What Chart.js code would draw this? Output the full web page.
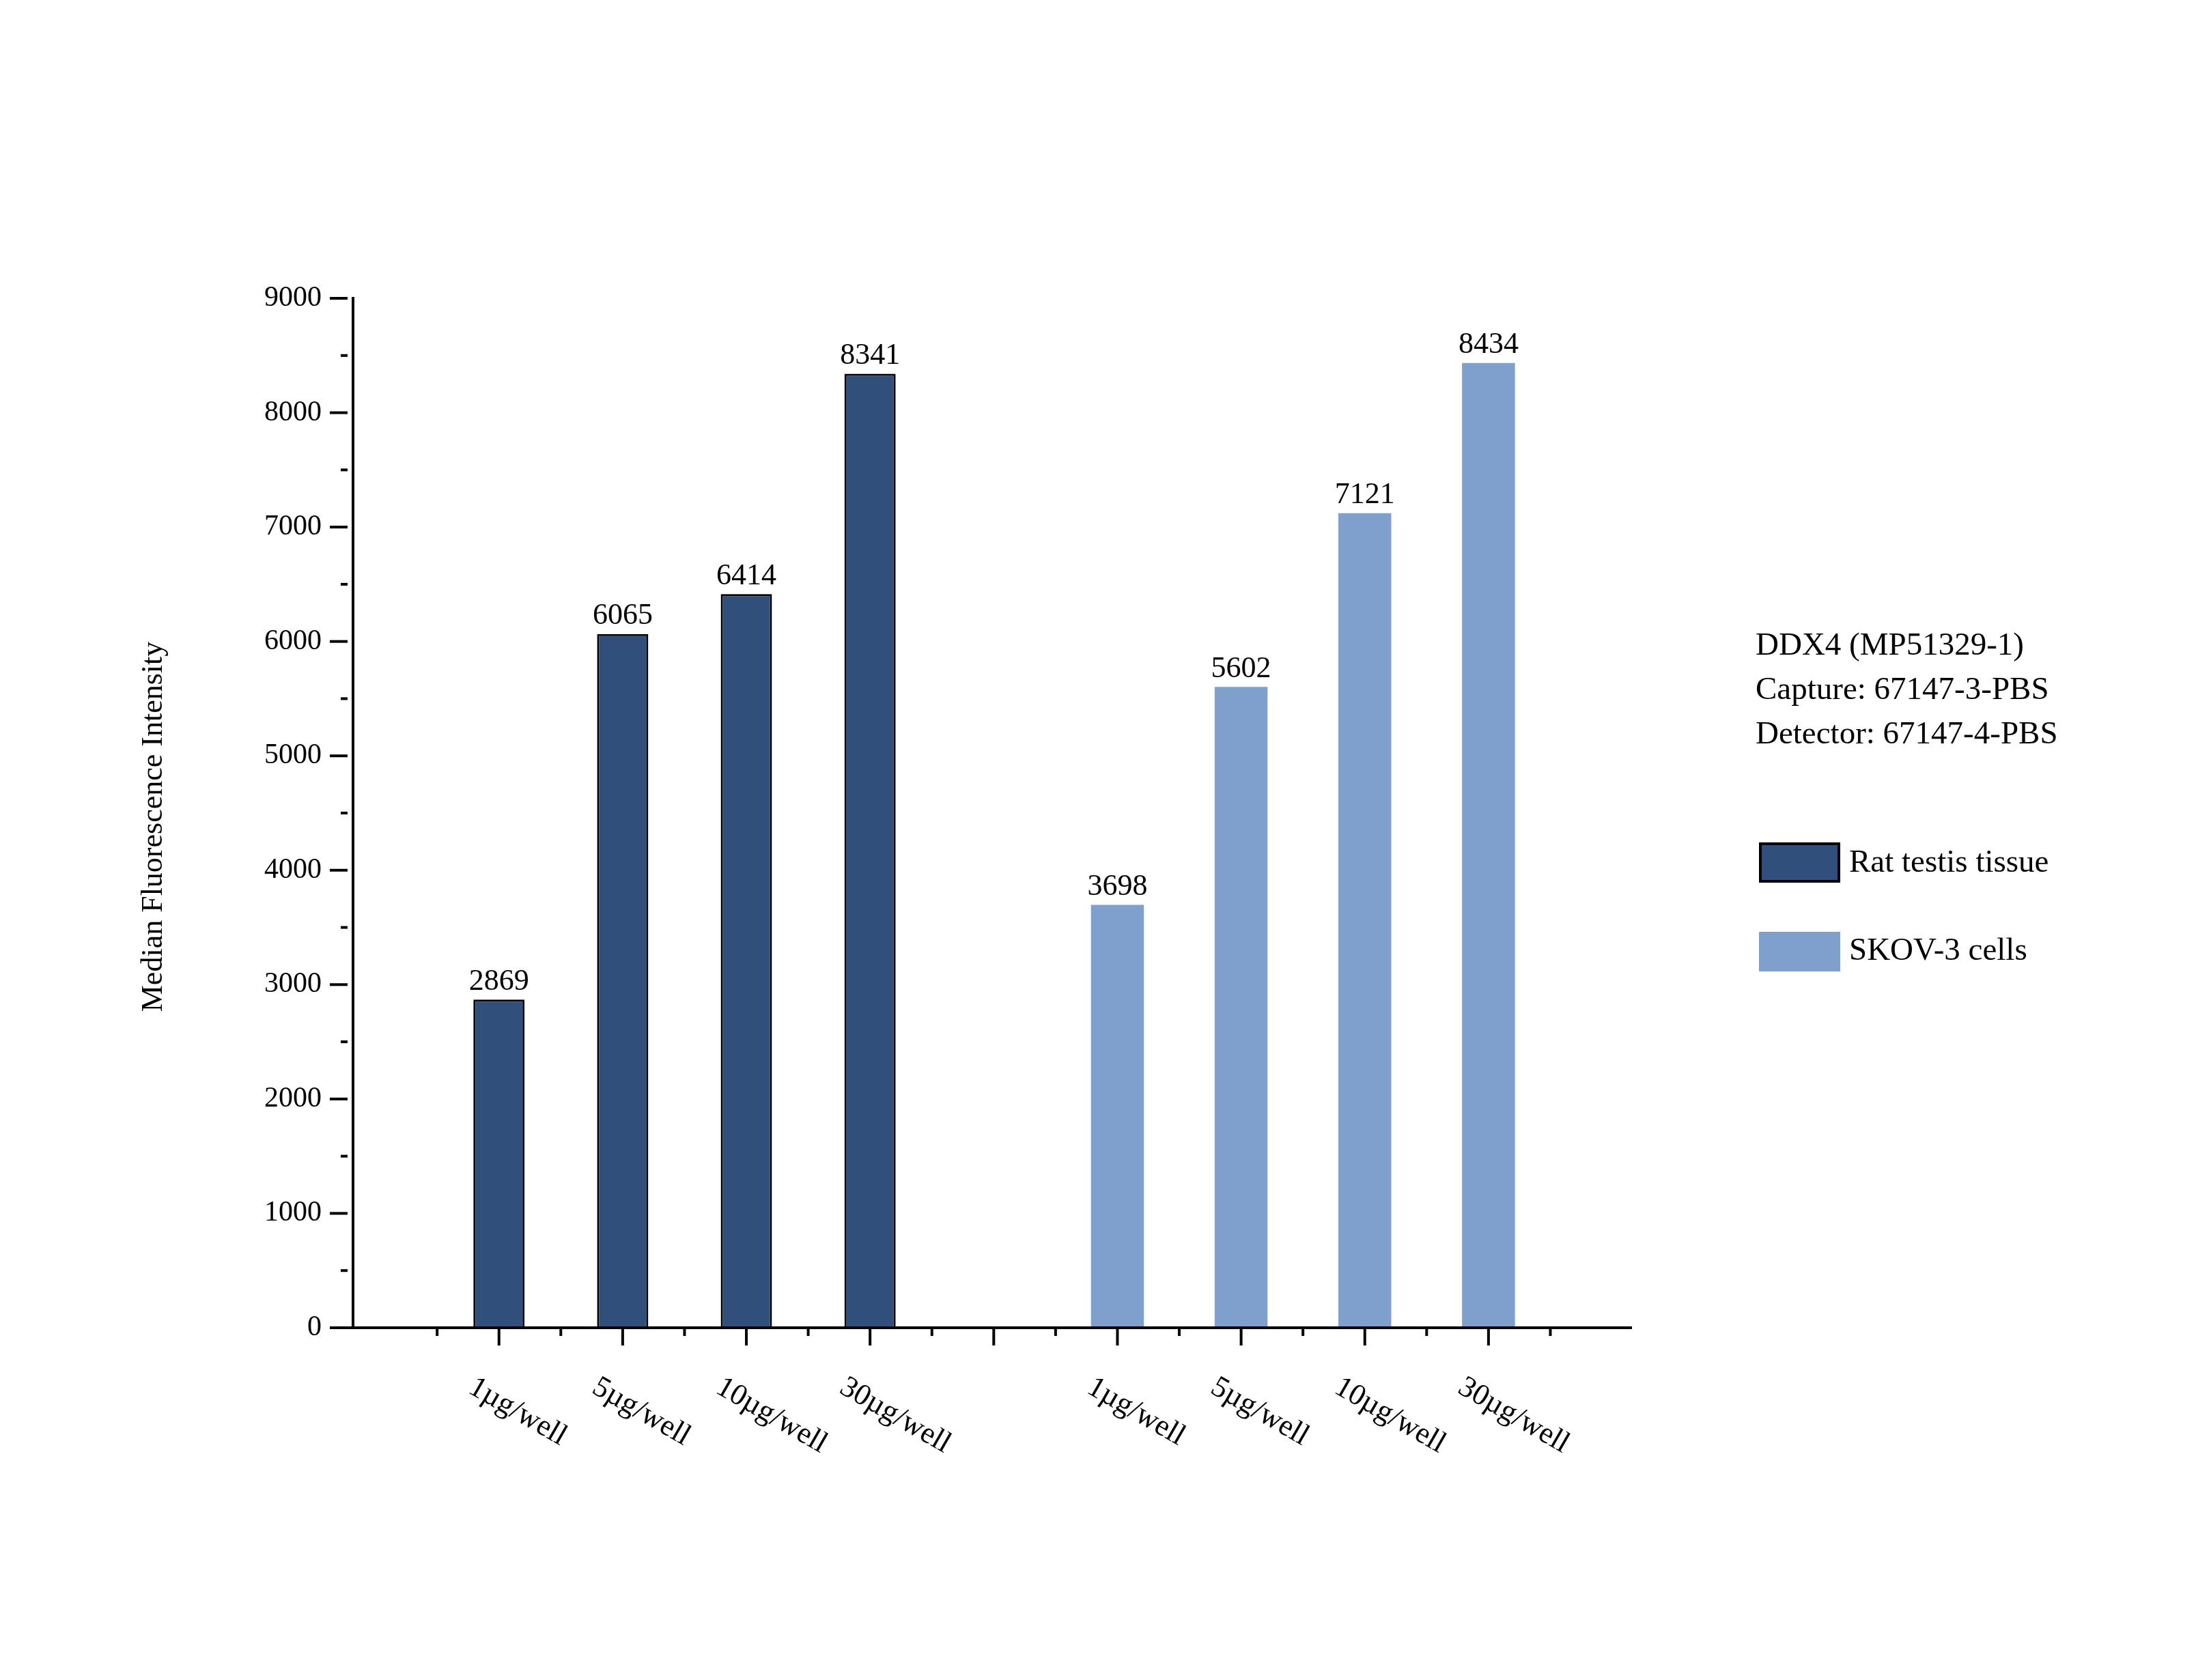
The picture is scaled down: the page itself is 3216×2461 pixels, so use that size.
<!DOCTYPE html>
<html>
<head>
<meta charset="utf-8">
<script src="https://cdn.jsdelivr.net/npm/chart.js@4"></script>
<style>
  html, body { margin: 0; padding: 0; background: #fff; }
  #wrap { width: 3216px; height: 2461px; }
</style>
</head>
<body>
<div id="wrap"><canvas id="chart"></canvas></div>
<script>
// Data
const categories = ['1µg/well', '5µg/well', '10µg/well', '30µg/well'];
const ratValues = [2869, 6065, 6414, 8341];
const skovValues = [3698, 5602, 7121, 8434];
const ratPositions = [0, 1, 2, 3];
const skovPositions = [5, 6, 7, 8];
const yTicks = [0, 1000, 2000, 3000, 4000, 5000, 6000, 7000, 8000, 9000];
const noteLines = ['DDX4 (MP51329-1)', 'Capture: 67147-3-PBS', 'Detector: 67147-4-PBS'];
const seriesNames = ['Rat testis tissue', 'SKOV-3 cells'];

const DARK = '#304f7a';
const LIGHT = '#7f9fcc';
const FONT = "'Liberation Serif', 'Times New Roman', serif";

// Custom drawing: ticks, rotated labels, value labels, legend
const decorPlugin = {
    id: 'decor',
    afterDraw(chart) {
        const ctx = chart.ctx;
        const x = chart.scales.x;
        const y = chart.scales.y;
        const y0 = y.getPixelForValue(0);
        ctx.save();
        ctx.strokeStyle = '#000';
        ctx.fillStyle = '#000';
        ctx.lineWidth = 4;

        // x axis line (extends left of y axis)
        ctx.beginPath();
        ctx.moveTo(x.left - 26, y0);
        ctx.lineTo(x.right, y0);
        ctx.stroke();

        // x ticks: major at integers, minor at halves
        for (let v = -0.5; v <= 8.5; v += 0.5) {
            const px = x.getPixelForValue(v);
            const len = Number.isInteger(v) ? 26 : 12;
            ctx.beginPath();
            ctx.moveTo(px, y0);
            ctx.lineTo(px, y0 + len);
            ctx.stroke();
        }

        // y ticks
        for (let v = 0; v <= 9000; v += 500) {
            const py = y.getPixelForValue(v);
            const len = v % 1000 === 0 ? 26 : 10;
            ctx.beginPath();
            ctx.moveTo(y.left, py);
            ctx.lineTo(y.left - len, py);
            ctx.stroke();
        }

        // y tick labels
        ctx.font = '42px ' + FONT;
        ctx.textAlign = 'right';
        ctx.textBaseline = 'middle';
        yTicks.forEach(v => ctx.fillText(String(v), y.left - 38, y.getPixelForValue(v)));

        // y title
        ctx.save();
        ctx.translate(225, (y.top + y0) / 2 + 20);
        ctx.rotate(-Math.PI / 2);
        ctx.textAlign = 'center';
        ctx.font = '44px ' + FONT;
        ctx.fillText('Median Fluorescence Intensity', 0, 0);
        ctx.restore();

        // rotated x labels
        ctx.font = '44px ' + FONT;
        ctx.textAlign = 'left';
        ctx.textBaseline = 'top';
        const drawCat = (pos, label) => {
            ctx.save();
            ctx.translate(x.getPixelForValue(pos) - 30, y0 + 65);
            ctx.rotate(Math.PI / 6);
            ctx.fillText(label, 0, 0);
            ctx.restore();
        };
        ratPositions.forEach((p, i) => drawCat(p, categories[i]));
        skovPositions.forEach((p, i) => drawCat(p, categories[i]));

        // value labels
        ctx.textAlign = 'center';
        ctx.textBaseline = 'bottom';
        ctx.font = '44px ' + FONT;
        const drawVal = (pos, v) => ctx.fillText(String(v), x.getPixelForValue(pos), y.getPixelForValue(v) - 4);
        ratPositions.forEach((p, i) => drawVal(p, ratValues[i]));
        skovPositions.forEach((p, i) => drawVal(p, skovValues[i]));

        // note text
        ctx.textAlign = 'left';
        ctx.textBaseline = 'middle';
        ctx.font = '47px ' + FONT;
        noteLines.forEach((t, i) => ctx.fillText(t, 2571, 947 + i * 65));

        // legend
        ctx.fillStyle = DARK;
        ctx.fillRect(2578, 1236, 115, 55);
        ctx.lineWidth = 4;
        ctx.strokeRect(2578, 1236, 115, 55);
        ctx.fillStyle = LIGHT;
        ctx.fillRect(2576, 1365, 119, 58);
        ctx.fillStyle = '#000';
        ctx.fillText(seriesNames[0], 2708, 1265);
        ctx.fillText(seriesNames[1], 2708, 1394);
        ctx.restore();
    }
};

new Chart(document.getElementById('chart'), {
    type: 'bar',
    data: {
        datasets: [
            {
                label: seriesNames[0],
                data: ratPositions.map((p, i) => ({ x: p, y: ratValues[i] })),
                backgroundColor: DARK,
                borderColor: '#000',
                borderWidth: 3,
                grouped: false,
                barPercentage: 0.6,
                categoryPercentage: 1
            },
            {
                label: seriesNames[1],
                data: skovPositions.map((p, i) => ({ x: p, y: skovValues[i] })),
                backgroundColor: LIGHT,
                borderWidth: 0,
                grouped: false,
                barPercentage: 0.62,
                categoryPercentage: 1
            }
        ]
    },
    options: {
        responsive: true,
        maintainAspectRatio: false,
        animation: false,
        layout: { padding: { left: 509, right: 826, top: 437, bottom: 508 } },
        plugins: { legend: { display: false }, tooltip: { enabled: false } },
        scales: {
            x: {
                type: 'linear',
                min: -0.71, max: 8.69,
                grid: { display: false },
                border: { display: false },
                ticks: { display: false }
            },
            y: {
                min: 0, max: 9000,
                grid: { display: false },
                border: { display: true, color: '#000', width: 4 },
                ticks: { display: false, stepSize: 1000 }
            }
        }
    },
    plugins: [decorPlugin]
});
</script>
</body>
</html>
